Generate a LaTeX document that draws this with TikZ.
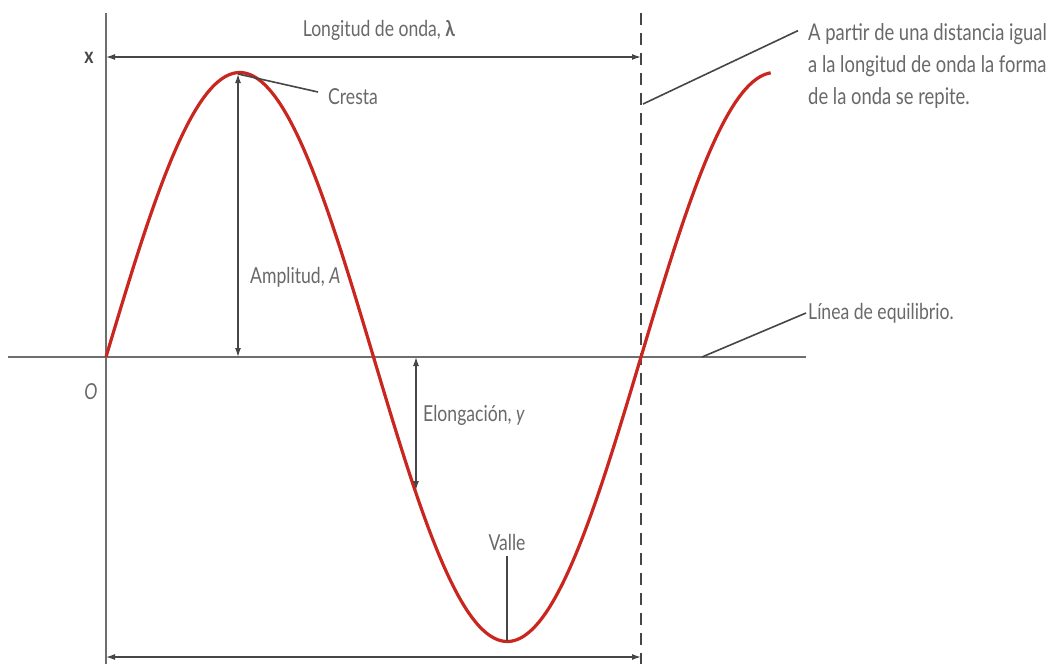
\documentclass[tikz,border=0pt]{standalone}
\usepackage{fontspec}
\setmainfont[FakeStretch=0.8]{Lato}
\usetikzlibrary{arrows.meta}
\definecolor{wavered}{RGB}{200,38,30}
\definecolor{axisgray}{RGB}{110,110,110}
\definecolor{leadgray}{RGB}{70,70,70}
\definecolor{txtgray}{RGB}{105,105,105}
\tikzset{
  axisline/.style={draw=axisgray, line width=2pt},
  dashline/.style={draw=leadgray, line width=1.8pt, dash pattern=on 12pt off 8pt},
  dimarrow/.style={draw=leadgray, line width=1.3pt, {Latex[length=9pt,width=6pt]}-{Latex[length=9pt,width=6pt]}},
  leader/.style={draw=leadgray, line width=1.6pt},
  wave/.style={draw=wavered, line width=3.2pt},
  lbl/.style={text=txtgray, font=\fontsize{22}{24}\selectfont, inner sep=0pt},
  sidelbl/.style={text=txtgray, font=\fontsize{23}{25}\selectfont, inner sep=0pt, anchor=base west},
}
\begin{document}
\begin{tikzpicture}[x=1pt,y=-1pt]
\useasboundingbox[fill=white] (0,0) rectangle (1051,664);
% coordinates
\coordinate (ytop) at (106,13);
\coordinate (ybot) at (106,664);
\coordinate (hl) at (8,357);
\coordinate (hr) at (806,357);
\coordinate (dtop) at (641,13);
\coordinate (dbot) at (641,664);
\coordinate (tl) at (106,57);
\coordinate (tr) at (641,57);
\coordinate (bl) at (106,657);
\coordinate (br) at (641,657);
\coordinate (crest) at (238,74);
\coordinate (ampbot) at (238,357);
\coordinate (elotop) at (416,357);
\coordinate (elobot) at (416,490);
\coordinate (valley) at (507,641);
\coordinate (eqpt) at (702,357);
\coordinate (dpt) at (643,104);
\coordinate (cl) at (318,92);
% axes
\draw[axisline] (ytop) -- (ybot);
\draw[axisline] (hl) -- (hr);
\draw[dashline] (dtop) -- (dbot);
% wave
\draw[wave] plot[domain=0:1.243, samples=250, smooth] ({106+535*\x},{357-284.5*sin(360*\x)});
% dimension arrows
\draw[dimarrow] (tl) -- (tr);
\draw[dimarrow] (bl) -- (br);
\draw[dimarrow] (crest) -- (ampbot);
\draw[dimarrow] (elotop) -- (elobot);
% labels
\node[lbl, anchor=center] (lambda) at (379,30) {Longitud de onda, \textbf{λ}};
\node[lbl, anchor=center, text=leadgray] (xlab) at (89,58) {\textbf{x}};
\node[lbl, anchor=west] (cresta) at (328,97) {Cresta};
\node[lbl, anchor=west] (amp) at (250,277) {Amplitud, \textit{A}};
\node[lbl, anchor=west] (elo) at (423,415) {Elongación, \textit{y}};
\node[lbl, anchor=center] (valle) at (507,542) {Valle};
\node[lbl, anchor=center] (olab) at (91,392) {\textit{O}};
\node[lbl, anchor=west] (eq) at (808,313) {Línea de equilibrio.};
\node[sidelbl] (rep1) at (808,40) {A partir de una distancia igual};
\node[sidelbl] (rep2) at (808,72) {a la longitud de onda la forma};
\node[sidelbl] (rep3) at (808,104) {de la onda se repite.};
% leaders
\draw[leader] (crest) -- (cl);
\draw[leader] (valle.south) ++(0,6) coordinate (vt) -- (valley);
\draw[leader] (eqpt) -- ([xshift=-2pt]eq.west);
\draw[leader] (dpt) -- ([xshift=-10pt,yshift=3pt]rep1.west);
\end{tikzpicture}
\end{document}
